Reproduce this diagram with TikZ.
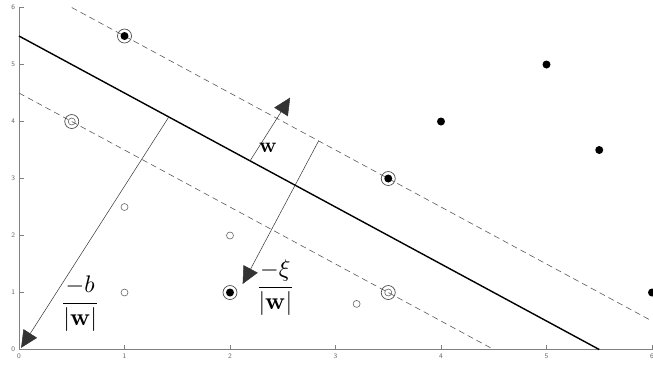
\documentclass[tikz,border=0pt]{standalone}
\usetikzlibrary{arrows.meta}
\begin{document}
\begin{tikzpicture}[x=105.5pt,y=57pt,
 filled/.style={circle,fill=black,inner sep=0pt,minimum size=8pt},
 hollow/.style={circle,draw=black!60,line width=0.6pt,inner sep=0pt,minimum size=7pt},
 ring/.style={circle,draw=black!70,line width=0.7pt,inner sep=0pt,minimum size=14pt},
 axisline/.style={draw=black!50,line width=0.8pt},
 ticklab/.style={font=\sffamily\scriptsize,text=black!60,inner sep=1pt},
 marginline/.style={draw=black!65,dash pattern=on 6pt off 4pt,line width=0.6pt},
 hyper/.style={line width=1.4pt},
 vec/.style={draw=black!80,line width=0.5pt,-{Triangle[length=17pt,width=16pt]}},
 lab/.style={inner sep=0pt,scale=2.4,transform shape}]
\useasboundingbox (-0.1801,-0.307) rectangle (6.0095,6.132);
% axes
\draw[axisline] (0,6) -- (0,0) -- (6.01,0);
\foreach \i in {0,...,6}{
  \draw[axisline] (0,\i) -- ++(5pt,0);
  \node[ticklab,anchor=east] (yl\i) at (-0.025,\i) {\i};
  \draw[axisline] (\i,0) -- ++(0,5pt);
  \node[ticklab,anchor=north] (xl\i) at (\i,-0.05) {\i};
}
% hyperplane and margins
\coordinate (h1) at (0,5.5); \coordinate (h2) at (5.5,0);
\draw[hyper] (h1) -- (h2);
\coordinate (u1) at (0.5,6); \coordinate (u2) at (6,0.5);
\draw[marginline] (u1) -- (u2);
\coordinate (l1) at (0,4.5); \coordinate (l2) at (4.5,0);
\draw[marginline] (l1) -- (l2);
% positive points
\node[filled] (a1) at (1,5.5) {}; \node[ring] (r1) at (1,5.5) {};
\node[filled] (a2) at (3.5,3) {}; \node[ring] (r2) at (3.5,3) {};
\node[filled] (a3) at (4,4) {};
\node[filled] (a4) at (5,5) {};
\node[filled] (a5) at (5.5,3.5) {};
\node[filled] (a6) at (6,1) {};
\node[filled] (a7) at (2,1) {}; \node[ring] (r7) at (2,1) {};
% negative points
\node[hollow] (b1) at (0.5,4) {}; \node[ring] (s1) at (0.5,4) {};
\node[hollow] (b2) at (1,2.5) {};
\node[hollow] (b3) at (1,1) {};
\node[hollow] (b4) at (2,2) {};
\node[hollow] (b5) at (3.2,0.8) {};
\node[hollow] (b6) at (3.5,1) {}; \node[ring] (s6) at (3.5,1) {};
% vectors
\coordinate (w0) at (2.19,3.31); \coordinate (w1) at (2.57,4.42);
\draw[vec] (w0) -- (w1);
\coordinate (x0) at (2.84,3.66); \coordinate (x1) at (2.12,1.15);
\draw[vec] (x0) -- (x1);
\coordinate (o0) at (1.42,4.08); \coordinate (o1) at (0.02,0.03);
\draw[vec] (o0) -- (o1);
% labels
\node[inner sep=0pt,scale=2.1,transform shape] (lw) at (2.36,3.53) {$\mathbf{w}$};
\node[lab] (lb) at (0.58,0.80) {$\displaystyle\frac{-b}{|\mathbf{w}|}$};
\node[lab] (lx) at (2.43,1.08) {$\displaystyle\frac{-\xi}{|\mathbf{w}|}$};
\end{tikzpicture}
\end{document}
